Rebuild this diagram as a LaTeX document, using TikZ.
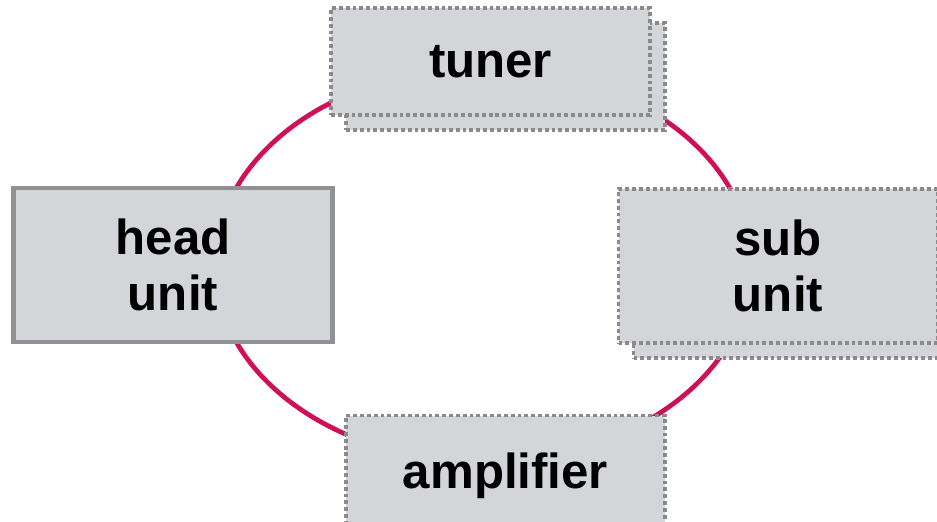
\documentclass[tikz,border=0pt]{standalone}
\usepackage{fontspec}
\setmainfont{Liberation Sans}
\usetikzlibrary{shadows}

\definecolor{ringred}{RGB}{206,16,88}
\definecolor{boxfill}{RGB}{212,213,216}
\definecolor{dotline}{RGB}{138,138,140}
\definecolor{solidline}{RGB}{145,145,148}

\tikzset{
  unitbox/.style={fill=boxfill, minimum width=6.38cm, align=center, inner sep=0pt,
    font=\fontsize{28}{32}\selectfont\bfseries},
  solidbox/.style={unitbox, draw=solidline, line width=2.3pt},
  dotbox/.style={unitbox, draw=dotline, line width=2.2pt, dash pattern=on 2.2pt off 1.7pt},
  stacked/.style={copy shadow={shadow xshift=#1, shadow yshift=-0.3cm, opacity=1,
    fill=boxfill, draw=dotline, line width=2.2pt, dash pattern=on 2.2pt off 1.7pt}},
  ring/.style={draw=ringred, line width=2.7pt}
}

\begin{document}
\begin{tikzpicture}
            \useasboundingbox (0,0) rectangle (18.74,10.42);

            \coordinate (centre) at (9.66,5.12);
            \draw[ring] (centre) ellipse (5.36cm and 3.94cm); % the ring

            \node[solidbox, minimum height=3.08cm] (head) at (3.46,5.12) {head\\unit};
            \node[dotbox, stacked=0.3cm, minimum height=2.14cm] (tuner) at (9.81,9.19) {tuner};
            \node[dotbox, stacked=0.3cm, minimum height=3.08cm] (sub) at (15.56,5.10) {sub\\unit};
            \node[dotbox, minimum height=2.4cm] (amp) at (10.11,0.91) {amplifier}; % runs off the bottom
        \end{tikzpicture}
\end{document}
